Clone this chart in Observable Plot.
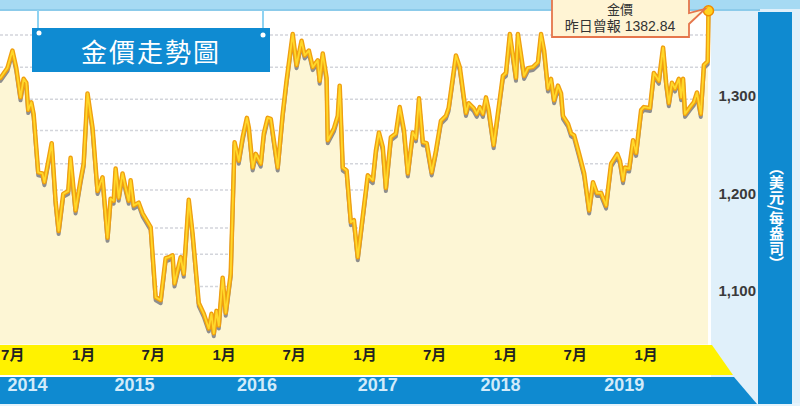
<!DOCTYPE html>
<html>
<head>
<meta charset="utf-8">
<script src="https://cdn.jsdelivr.net/npm/d3@7"></script>
<script src="https://cdn.jsdelivr.net/npm/@observablehq/plot@0.6"></script>
<style>
  body { margin: 0; background: #ffffff; }
  #wrap { position: relative; width: 800px; height: 406px; overflow: hidden; font-family: "Liberation Sans", Arial, sans-serif; }
  #bg, #fg { position: absolute; left: 0; top: 0; }
  #chart { position: absolute; left: 0; top: 0; width: 800px; height: 406px; }
  #title { position: absolute; left: 32px; top: 28px; width: 238px; height: 44px; background: #0f8bd2;
           color: #ffffff; font: 400 26px "Noto Sans CJK TC", sans-serif; letter-spacing: 2px;
           display: flex; align-items: center; justify-content: center; }
  #unit { position: absolute; left: 765px; top: 160px; width: 22px; height: 115px; writing-mode: vertical-rl;
          color: #ffffff; font: 700 15px "Noto Sans CJK TC", sans-serif; }
</style>
</head>
<body>
<div id="wrap">
  <svg id="bg" width="800" height="406">
    <rect x="0" y="0" width="800" height="406" fill="#ffffff"/>
    <rect x="711" y="0" width="89" height="406" fill="#e0f0fa"/>
    <rect x="0" y="403" width="800" height="3" fill="#e6f3fb"/>
    <rect x="0" y="0" width="800" height="9" fill="#a6daf3"/>
    <rect x="0" y="9" width="760" height="2" fill="#8ccbea"/>
    <rect x="758" y="12" width="34" height="392" fill="#0f8ad0"/>
    <polygon points="0,345 712,345 733,375 0,375" fill="#fff200"/>
    <polygon points="0,377 734,377 757,404 0,404" fill="#0f8ad0"/>
  </svg>
  <div id="chart"></div>
  <svg id="fg" width="800" height="406">
    <line x1="38" y1="10" x2="38" y2="30" stroke="#8fd3f2" stroke-width="2"/>
    <line x1="263" y1="10" x2="263" y2="30" stroke="#8fd3f2" stroke-width="2"/>
  </svg>
  <div id="title">金價走勢圖</div>
  <svg id="fg2" width="800" height="406" style="position:absolute;left:0;top:0;pointer-events:none">
    <circle cx="39" cy="33" r="2.5" fill="#ffffff"/>
    <circle cx="263" cy="35" r="2.5" fill="#ffffff"/>
    <path d="M552,-4 H689 V13 L705,9 L689,24 V37 H552 Z" fill="#fff4d4" stroke="#e5764c" stroke-width="1.8"/>
    <text x="620" y="10" text-anchor="middle" dominant-baseline="middle" font-family="Noto Sans CJK TC" font-size="13" fill="#333">金價</text>
    <text x="620" y="27" text-anchor="middle" dominant-baseline="middle" font-family="'Liberation Sans','Noto Sans CJK TC'" font-size="14" fill="#333">昨日曾報 1382.84</text>
  </svg>
  <div id="unit">（美元/每盎司）</div>
</div>
<script>
// ---- data ----
const dates = [
"2014-06-07","2014-06-25","2014-07-08","2014-07-18","2014-07-29","2014-08-06","2014-08-13","2014-08-18","2014-08-26","2014-09-01",
"2014-09-13","2014-09-24","2014-09-29","2014-10-18","2014-10-28","2014-11-05","2014-11-17","2014-11-30","2014-12-06","2014-12-19",
"2015-01-01","2015-01-09","2015-01-19","2015-02-01","2015-02-14","2015-02-27","2015-03-12","2015-03-20","2015-03-28","2015-04-02",
"2015-04-10","2015-04-20","2015-04-28","2015-05-06","2015-05-11","2015-05-19","2015-06-01","2015-06-11","2015-07-02","2015-07-15",
"2015-07-28","2015-08-10","2015-08-18","2015-08-28","2015-09-02","2015-09-18","2015-09-26","2015-10-09","2015-10-19","2015-11-04",
"2015-11-17","2015-11-30","2015-12-07","2015-12-13","2015-12-20","2015-12-26","2016-01-05","2016-01-13","2016-01-26","2016-02-05",
"2016-02-16","2016-02-26","2016-03-08","2016-03-13","2016-03-23","2016-03-31","2016-04-13","2016-04-21","2016-05-01","2016-05-09",
"2016-05-27","2016-06-09","2016-06-19","2016-07-05","2016-07-15","2016-07-28","2016-08-05","2016-08-16","2016-08-26","2016-09-08",
"2016-09-13","2016-09-21","2016-10-01","2016-10-04","2016-10-20","2016-10-30","2016-11-04","2016-11-12","2016-11-22","2016-12-03",
"2016-12-11","2016-12-21","2017-01-16","2017-01-29","2017-02-06","2017-02-14","2017-02-24","2017-03-04","2017-03-17","2017-03-30",
"2017-04-09","2017-04-20","2017-04-30","2017-05-13","2017-05-21","2017-05-29","2017-06-08","2017-06-18","2017-07-01","2017-07-12",
"2017-07-25","2017-08-07","2017-08-14","2017-09-02","2017-09-12","2017-09-28","2017-10-05","2017-10-18","2017-10-26","2017-11-03",
"2017-11-11","2017-11-19","2017-11-26","2017-12-09","2018-01-02","2018-01-10","2018-01-20","2018-02-05","2018-02-10","2018-02-26",
"2018-03-08","2018-03-21","2018-04-03","2018-04-11","2018-04-19","2018-04-29","2018-05-07","2018-05-15","2018-05-25","2018-06-02",
"2018-06-07","2018-06-20","2018-06-28","2018-07-06","2018-07-19","2018-08-01","2018-08-14","2018-08-24","2018-09-03","2018-09-14",
"2018-09-27","2018-10-10","2018-10-26","2018-11-02","2018-11-10","2018-11-15","2018-11-26","2018-12-06","2018-12-14","2018-12-27",
"2019-01-03","2019-01-19","2019-01-29","2019-02-11","2019-02-22","2019-03-02","2019-03-09","2019-03-17","2019-03-25","2019-04-04",
"2019-04-10","2019-04-15","2019-04-20","2019-05-03","2019-05-13","2019-05-21","2019-05-31","2019-06-08","2019-06-18","2019-06-20"
];
const prices = [
1314,1324,1342,1324,1294,1313,1309,1281,1289,1277,
1217,1216,1207,1247,1188,1157,1195,1198,1232,1178,
1209,1226,1298,1263,1198,1212,1150,1190,1188,1221,
1191,1216,1201,1188,1209,1183,1186,1175,1161,1089,
1086,1129,1130,1132,1103,1130,1113,1189,1154,1083,
1072,1057,1072,1052,1075,1060,1109,1073,1113,1248,
1229,1253,1273,1263,1222,1236,1226,1257,1273,1272,
1222,1277,1311,1359,1327,1352,1337,1342,1325,1332,
1311,1339,1314,1250,1262,1275,1306,1222,1219,1166,
1168,1130,1214,1209,1239,1258,1243,1201,1253,1257,
1284,1260,1216,1258,1252,1293,1248,1247,1217,1239,
1270,1275,1283,1337,1325,1278,1288,1283,1277,1284,
1277,1294,1281,1245,1316,1319,1359,1314,1359,1316,
1324,1325,1330,1359,1342,1303,1313,1291,1306,1298,
1275,1267,1257,1255,1236,1216,1178,1207,1196,1196,
1183,1226,1236,1229,1209,1222,1221,1250,1237,1281,
1284,1283,1319,1311,1345,1309,1288,1309,1303,1313,
1294,1313,1277,1284,1289,1299,1277,1327,1331,1382.84
];
const xDomain = ["2014-06-07", "2019-06-20"];
const baseline = 1040;
const yTicks = [1100, 1200, 1300];
const gridValues = [1358, 1325, 1292, 1260, 1226, 1199, 1160, 1133, 1100];
const monthTicks = ["2014-07-01","2015-01-01","2015-07-01","2016-01-01","2016-07-01","2017-01-01","2017-07-01","2018-01-01","2018-07-01","2019-01-01"];
const monthLabels = ["7月","1月","7月","1月","7月","1月","7月","1月","7月","1月"];
const yearLabels = ["2014","2015","2016","2017","2018","2019"];
const yearPos = ["2014-08-16","2015-05-21","2016-04-03","2017-02-11","2017-12-27","2018-11-13"];

// ---- chart ----
const data = dates.map((d, i) => ({date: new Date(d), price: prices[i]}));
const last = data[data.length - 1];
const fmt = d3.format(",");

const chart = Plot.plot({
  width: 800,
  height: 406,
  marginTop: 0,
  marginBottom: 0,
  marginLeft: 0,
  marginRight: 92,
  style: {background: "transparent", overflow: "visible"},
  x: {type: "utc", domain: xDomain.map(d => new Date(d)), range: [0, 708], axis: null},
  y: {domain: [1100, 1300], range: [286, 91], axis: null},
  marks: [
    Plot.ruleY(gridValues, {stroke: "#d3d5db", strokeWidth: 1.5, strokeDasharray: "3,2"}),
    Plot.areaY(data, {x: "date", y1: baseline, y2: "price", fill: "#fdf6d5"}),
    Plot.line(data, {x: "date", y: "price", stroke: "#8e8e8e", strokeWidth: 4, dy: 3}),
    Plot.line(data, {x: "date", y: "price", stroke: "#f0a010", strokeWidth: 4.5}),
    Plot.line(data, {x: "date", y: "price", stroke: "#ffd82a", strokeWidth: 1.8}),
    Plot.dot([last], {x: "date", y: "price", r: 5, fill: "#ffd21f", stroke: "#f08c00", strokeWidth: 1.5}),
    Plot.text(yTicks, {y: d => d, text: d => fmt(d), frameAnchor: "right", textAnchor: "start", dx: 10, dy: 5,
      fontSize: 15, fontWeight: "bold", fill: "#3a3a3a", fontFamily: "Liberation Sans, Arial, sans-serif"}),
    Plot.text(monthTicks, {x: d => new Date(d), text: (d, i) => monthLabels[i], frameAnchor: "bottom", dx: 3, dy: -47,
      fontSize: 15, fontWeight: "bold", fill: "#222222", fontFamily: "Liberation Sans, Noto Sans CJK TC, sans-serif"}),
    Plot.text(yearPos, {x: d => new Date(d), text: (d, i) => yearLabels[i], frameAnchor: "bottom", dy: -16,
      fontSize: 18, fontWeight: "bold", fill: "#d2ebfa", fontFamily: "Liberation Sans, Arial, sans-serif"})
  ]
});
document.getElementById("chart").appendChild(chart);
</script>
</body>
</html>
